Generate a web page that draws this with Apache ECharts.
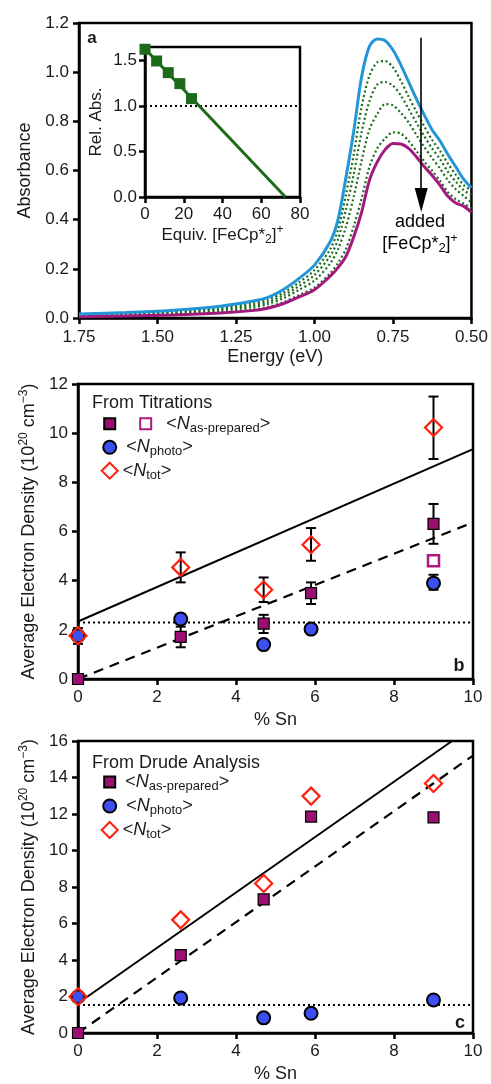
<!DOCTYPE html>
<html><head><meta charset="utf-8">
<script src="https://cdn.jsdelivr.net/npm/echarts@6.0.0/dist/echarts.min.js"></script>
<style>html,body{margin:0;padding:0;background:#fff}#c{width:491px;height:1084px}</style>
</head><body><div id="c"></div>
<script>
// ---------- Panel a: absorbance spectra ----------
const energy = [1.75,1.6,1.45,1.3,1.2,1.15,1.1,1.05,1.0,0.95,0.925,0.9,0.875,0.85,0.825,0.8,0.775,0.75,0.725,0.7,0.675,0.65,0.625,0.6,0.575,0.55,0.525,0.5];
const absBlue = [0.016,0.022,0.032,0.048,0.068,0.083,0.115,0.160,0.215,0.310,0.400,0.570,0.760,0.980,1.105,1.135,1.128,1.090,1.030,0.960,0.890,0.825,0.765,0.720,0.665,0.615,0.565,0.530];
const absDot1 = [0.014,0.019,0.028,0.042,0.060,0.074,0.102,0.144,0.195,0.280,0.360,0.50,0.665,0.859,0.985,1.04,1.045,1.02,0.965,0.90,0.838,0.779,0.724,0.68,0.628,0.583,0.541,0.52];
const absDot2 = [0.011,0.016,0.024,0.037,0.052,0.065,0.092,0.129,0.175,0.252,0.320,0.44,0.584,0.755,0.882,0.95,0.96,0.945,0.905,0.85,0.794,0.739,0.689,0.646,0.595,0.555,0.52,0.50];
const absDot3 = [0.009,0.013,0.020,0.031,0.044,0.056,0.080,0.114,0.152,0.222,0.280,0.37,0.493,0.639,0.767,0.83,0.87,0.865,0.835,0.795,0.744,0.695,0.65,0.608,0.56,0.524,0.497,0.47];
const absDot4 = [0.006,0.009,0.014,0.023,0.034,0.044,0.064,0.093,0.124,0.182,0.224,0.28,0.373,0.485,0.615,0.69,0.73,0.755,0.75,0.72,0.679,0.636,0.599,0.558,0.512,0.483,0.466,0.445];
const absMagenta = [0.005,0.008,0.012,0.020,0.030,0.040,0.058,0.085,0.115,0.170,0.205,0.250,0.330,0.430,0.560,0.635,0.685,0.710,0.708,0.690,0.655,0.615,0.580,0.540,0.495,0.468,0.455,0.430];
const arrowX = [0.66, 0.66];
const arrowY = [1.14, 0.48];

// ---------- Inset ----------
const insetEquiv = [0, 6, 12, 18, 24];
const insetRelAbs = [1.625, 1.496, 1.368, 1.247, 1.082];
const insetFitX = [0, 72.5];
const insetFitY = [1.63, 0];
const insetRefX = [0, 80];
const insetRefY = [1.0, 1.0];

// ---------- Panel b: titrations ----------
const snPct = [0, 2.6, 4.7, 5.9, 9.0];
const bAsPrep = [0, 1.71, 2.25, 3.49, 6.31];
const bAsPrepLo = [null, 1.29, 1.87, 3.05, 5.50];
const bAsPrepHi = [null, 2.13, 2.61, 3.93, 7.12];
const bAsPrepOpenX = [9.0];
const bAsPrepOpen = [4.81];
const bPhoto = [1.76, 2.44, 1.40, 2.03, 3.90];
const bPhotoLo = [1.43, 2.24, null, null, 3.63];
const bPhotoHi = [2.07, 2.64, null, null, 4.24];
const bTot = [1.76, 4.54, 3.63, 5.46, 10.23];
const bTotLo = [null, 3.93, 3.13, 4.81, 8.95];
const bTotHi = [null, 5.15, 4.13, 6.14, 11.49];
const bFitTotX = [0, 10], bFitTotY = [2.34, 9.35];
const bFitAsX = [0, 10], bFitAsY = [0, 6.37];
const bPhotoAvgX = [0, 10], bPhotoAvgY = [2.3, 2.3];

// ---------- Panel c: Drude ----------
const cAsPrep = [0, 4.27, 7.32, 11.86, 11.81];
const cPhoto = [1.99, 1.92, 0.83, 1.08, 1.81];
const cTot = [1.99, 6.20, 8.19, 12.98, 13.67];
const cFitTotX = [0, 9.47], cFitTotY = [1.63, 16];
const cFitAsX = [0, 10], cFitAsY = [0, 15.2];
const cPhotoAvgX = [0, 10], cPhotoAvgY = [1.54, 1.54];

const FONT = '"Liberation Sans", Arial, sans-serif';
const TXT = '#1a1a1a';
const PURPLE = '#9c0f72', BLUEDOT = '#3b4ff5', RED = '#ff2010', GREEN = '#1b6b1b';
const zip = (xs, ys) => xs.map((x, i) => [x, ys[i]]);

const rich = {
  m: {fontSize: 18, lineHeight: 22, fontFamily: FONT, color: TXT},
  i: {fontSize: 18, lineHeight: 22, fontFamily: FONT, color: TXT, fontStyle: 'italic'},
  sub: {fontSize: 13, lineHeight: 13, fontFamily: FONT, color: TXT, verticalAlign: 'bottom'},
  sup: {fontSize: 12, lineHeight: 12, fontFamily: FONT, color: TXT, verticalAlign: 'top'},
  t: {fontSize: 17, lineHeight: 22, fontFamily: FONT, color: TXT},
  ts: {fontSize: 12, lineHeight: 12, fontFamily: FONT, color: TXT, verticalAlign: 'bottom'},
  tp: {fontSize: 12, lineHeight: 12, fontFamily: FONT, color: TXT, verticalAlign: 'top'}
};

function axis(gi, o) {
  return Object.assign({
    type: 'value', gridIndex: gi,
    axisLine: {show: true, onZero: false, lineStyle: {color: '#000', width: 2.5}},
    axisTick: {show: true, length: 6, lineStyle: {color: '#000', width: 2.5}},
    axisLabel: {color: TXT, fontSize: 17, fontFamily: FONT, margin: 10},
    splitLine: {show: false},
    nameLocation: 'middle',
    nameTextStyle: {color: TXT, fontSize: 18, fontFamily: FONT, rich: rich}
  }, o);
}

function errSeries(xs, lo, hi, xi, yi) {
  const data = [];
  xs.forEach((x, i) => { if (lo[i] != null) data.push([x, lo[i], hi[i]]); });
  return {
    type: 'custom', xAxisIndex: xi, yAxisIndex: yi, z: 1, silent: true,
    encode: {x: 0, y: [1, 2]}, data: data,
    renderItem: function (params, api) {
      const x = api.value(0);
      const p1 = api.coord([x, api.value(1)]);
      const p2 = api.coord([x, api.value(2)]);
      const w = 5, st = {stroke: '#000', lineWidth: 2};
      return {type: 'group', children: [
        {type: 'line', shape: {x1: p1[0], y1: p1[1], x2: p2[0], y2: p2[1]}, style: st},
        {type: 'line', shape: {x1: p1[0] - w, y1: p1[1], x2: p1[0] + w, y2: p1[1]}, style: st},
        {type: 'line', shape: {x1: p2[0] - w, y1: p2[1], x2: p2[0] + w, y2: p2[1]}, style: st}
      ]};
    }
  };
}

function lineS(xs, ys, xi, yi, type, width) {
  return {type: 'line', xAxisIndex: xi, yAxisIndex: yi, data: zip(xs, ys), symbol: 'none', silent: true, z: 2,
    lineStyle: {color: '#000', width: width || 2, type: type}};
}
function scat(name, xs, ys, xi, yi, sym, size, style) {
  return {type: 'scatter', name: name, xAxisIndex: xi, yAxisIndex: yi, data: zip(xs, ys), symbol: sym, symbolSize: size, z: 3,
    itemStyle: Object.assign({opacity: 1}, style)};
}
const sqStyle = {color: PURPLE, borderColor: '#000', borderWidth: 1.2};
const ciStyle = {color: BLUEDOT, borderColor: '#000', borderWidth: 2};
const diStyle = {color: 'rgba(255,255,255,0)', borderColor: RED, borderWidth: 2.2};
const osqStyle = {color: '#fff', borderColor: '#b0177f', borderWidth: 2.5};

function specLine(ys, color, dotted) {
  return {type: 'line', xAxisIndex: 0, yAxisIndex: 0, data: zip(energy, ys), symbol: 'none', smooth: 0.3, silent: true,
    lineStyle: dotted ? {color: GREEN, width: 2.2, type: [2, 2.6]} : {color: color, width: 3}};
}

function legendRow(names, left, top, w, h, gap, fmt) {
  return {data: names, left: left, top: top, orient: 'horizontal', padding: 0, itemWidth: w, itemHeight: h, itemGap: gap,
    selectedMode: false, formatter: fmt, textStyle: {rich: rich}};
}
const gridBase = {show: true, borderColor: '#000', borderWidth: 2.5, containLabel: false};

const option = {
  animation: false,
  backgroundColor: '#fff',
  grid: [
    Object.assign({left: 79, top: 23, width: 394, height: 295}, gridBase),
    Object.assign({left: 145, top: 47, width: 155, height: 150, backgroundColor: '#fff'}, gridBase),
    Object.assign({left: 78, top: 384, width: 395, height: 295}, gridBase),
    Object.assign({left: 78, top: 741, width: 395, height: 295}, gridBase)
  ],
  xAxis: [
    axis(0, {min: 0.5, max: 1.75, interval: 0.25, inverse: true, name: 'Energy (eV)', nameGap: 30,
      axisLabel: {color: TXT, fontSize: 17, fontFamily: FONT, margin: 11, formatter: v => v.toFixed(2)}}),
    axis(1, {min: 0, max: 80, interval: 20, nameGap: 24,
      name: '{t|Equiv. [FeCp*}{ts|2}{t|]}{tp|+}', axisLabel: {color: TXT, fontSize: 17, fontFamily: FONT, margin: 9}}),
    axis(2, {min: 0, max: 10, interval: 2, name: '% Sn', nameGap: 32}),
    axis(3, {min: 0, max: 10, interval: 2, name: '% Sn', nameGap: 32})
  ],
  yAxis: [
    axis(0, {min: 0, max: 1.2, interval: 0.2, name: 'Absorbance', nameGap: 42,
      axisLabel: {color: TXT, fontSize: 17, fontFamily: FONT, margin: 10, formatter: v => v.toFixed(1)}}),
    axis(1, {min: 0, max: 1.65, name: '{t|Rel. Abs.}', nameGap: 38,
      axisTick: {show: true, length: 6, lineStyle: {color: '#000', width: 2.5}, customValues: [0, 0.5, 1, 1.5]},
      axisLabel: {color: TXT, fontSize: 17, fontFamily: FONT, margin: 8, customValues: [0, 0.5, 1, 1.5], formatter: v => v.toFixed(1)}}),
    axis(2, {min: 0, max: 12, interval: 2, nameGap: 38,
      name: '{m|Average Electron Density (10}{sup|20}{m| cm}{sup|−3}{m|)}'}),
    axis(3, {min: 0, max: 16, interval: 2, nameGap: 38,
      name: '{m|Average Electron Density (10}{sup|20}{m| cm}{sup|−3}{m|)}'})
  ],
  legend: [
    legendRow(['bAsPrep', 'bAsPrepOpen'], 103.2, 414.7, 11, 11, 23,
      n => n === 'bAsPrep' ? '' : '{m|  <}{i|N}{sub|as-prepared}{m|>}'),
    legendRow(['bPhoto'], 102.2, 438.3, 13, 13, 10, () => '{m| <}{i|N}{sub|photo}{m|>}'),
    legendRow(['bTot'], 100.7, 461.7, 16, 16, 10, () => '{m|<}{i|N}{sub|tot}{m|>}'),
    legendRow(['cAsPrep'], 103.2, 773, 11, 11, 10, () => '{m| <}{i|N}{sub|as-prepared}{m|>}'),
    legendRow(['cPhoto'], 102.2, 797, 13, 13, 10, () => '{m| <}{i|N}{sub|photo}{m|>}'),
    legendRow(['cTot'], 100.7, 821, 16, 16, 10, () => '{m|<}{i|N}{sub|tot}{m|>}')
  ],
  series: [
    specLine(absDot1, GREEN, true),
    specLine(absDot2, GREEN, true),
    specLine(absDot3, GREEN, true),
    specLine(absDot4, GREEN, true),
    specLine(absMagenta, '#a3197f', false),
    Object.assign(specLine(absBlue, '#2296d6', false), {
      markLine: {silent: true, symbol: ['none', 'triangle'], symbolSize: [13, 24], label: {show: false},
        lineStyle: {color: '#000', width: 1.6, type: 'solid'},
        data: [[{coord: [arrowX[0], arrowY[0]]}, {coord: [arrowX[1], arrowY[1]]}]]}
    }),
    // inset
    lineS(insetRefX, insetRefY, 1, 1, [2, 3], 2),
    {type: 'line', xAxisIndex: 1, yAxisIndex: 1, data: zip(insetFitX, insetFitY), symbol: 'none', silent: true,
      lineStyle: {color: GREEN, width: 3}},
    scat('inset', insetEquiv, insetRelAbs, 1, 1, 'rect', 11, {color: GREEN}),
    // panel b
    lineS(bPhotoAvgX, bPhotoAvgY, 2, 2, [2, 3], 2),
    lineS(bFitTotX, bFitTotY, 2, 2, 'solid', 2),
    lineS(bFitAsX, bFitAsY, 2, 2, [10, 7], 2.2),
    errSeries(snPct, bAsPrepLo, bAsPrepHi, 2, 2),
    errSeries(snPct, bPhotoLo, bPhotoHi, 2, 2),
    errSeries(snPct, bTotLo, bTotHi, 2, 2),
    scat('bAsPrep', snPct, bAsPrep, 2, 2, 'rect', 11, sqStyle),
    scat('bAsPrepOpen', bAsPrepOpenX, bAsPrepOpen, 2, 2, 'rect', 11, osqStyle),
    scat('bPhoto', snPct, bPhoto, 2, 2, 'circle', 13, ciStyle),
    scat('bTot', snPct, bTot, 2, 2, 'diamond', 17, diStyle),
    // panel c
    lineS(cPhotoAvgX, cPhotoAvgY, 3, 3, [2, 3], 2),
    lineS(cFitTotX, cFitTotY, 3, 3, 'solid', 2),
    lineS(cFitAsX, cFitAsY, 3, 3, [10, 7], 2.2),
    scat('cAsPrep', snPct, cAsPrep, 3, 3, 'rect', 11, sqStyle),
    scat('cPhoto', snPct, cPhoto, 3, 3, 'circle', 13, ciStyle),
    scat('cTot', snPct, cTot, 3, 3, 'diamond', 17, diStyle)
  ],
  graphic: [
    {type: 'text', x: 92, y: 38, style: {text: 'a', font: 'bold 17px ' + FONT, fill: TXT, align: 'center', verticalAlign: 'middle'}},
    {type: 'text', x: 420, y: 233, style: {text: '{m|added}\n{m|[FeCp*}{sub|2}{m|]}{sup|+}', rich: rich, align: 'center', verticalAlign: 'middle'}},
    {type: 'text', x: 92, y: 403, style: {text: 'From Titrations', font: '18px ' + FONT, fill: TXT, align: 'left', verticalAlign: 'middle'}},
    {type: 'text', x: 459, y: 666, style: {text: 'b', font: 'bold 18px ' + FONT, fill: TXT, align: 'center', verticalAlign: 'middle'}},
    {type: 'text', x: 92, y: 763, style: {text: 'From Drude Analysis', font: '18px ' + FONT, fill: TXT, align: 'left', verticalAlign: 'middle'}},
    {type: 'text', x: 460, y: 1023, style: {text: 'c', font: 'bold 18px ' + FONT, fill: TXT, align: 'center', verticalAlign: 'middle'}}
  ]
};
const chart = echarts.init(document.getElementById('c'), null, {renderer: 'canvas'});
chart.setOption(option);
</script>
</body></html>
